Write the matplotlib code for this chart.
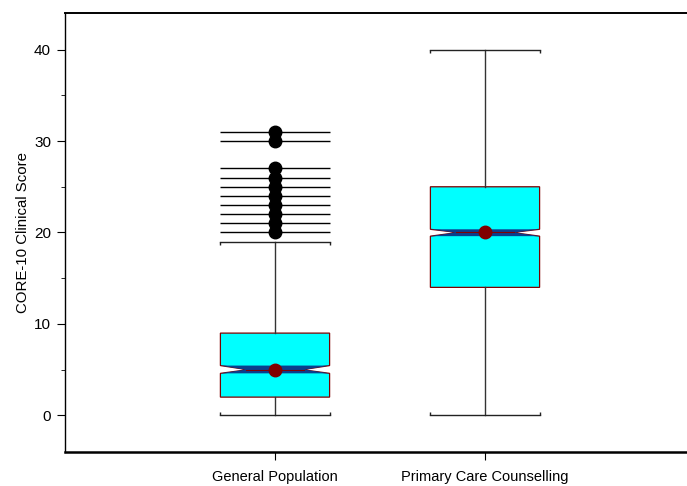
import matplotlib
matplotlib.use("Agg")
import matplotlib.pyplot as plt
from matplotlib.patches import Polygon
from matplotlib.ticker import MultipleLocator

plt.rcParams['font.family'] = ['Liberation Sans', 'DejaVu Sans']

categories = ["General Population", "Primary Care Counselling"]
q1 = [2, 14]
q3 = [9, 25]
medians = [5, 20]
means = [5, 20]
whislo = [0, 0]
whishi = [19, 40]
cilo = [4.6, 19.6]
cihi = [5.45, 20.35]
outliers = [[20, 21, 22, 23, 24, 25, 26, 27, 30, 31], []]

positions = [1, 2]
width = 0.52

fig = plt.figure(figsize=(6.87, 4.86), dpi=100)
ax = fig.add_axes([65 / 687, 34 / 486, 630 / 687, 439 / 486])

stats = []
for i, lab in enumerate(categories):
    stats.append(dict(label=lab, med=medians[i], q1=q1[i], q3=q3[i],
                      whislo=whislo[i], whishi=whishi[i], cilo=cilo[i],
                      cihi=cihi[i], mean=means[i], fliers=[]))

ax.bxp(stats, positions=positions, widths=width, shownotches=True, patch_artist=True,
       showmeans=False, showfliers=False,
       boxprops=dict(facecolor='#00FFFF', edgecolor='#800000', linewidth=0.9),
       medianprops=dict(color='#800000', linewidth=0.8),
       whiskerprops=dict(color='#333333', linewidth=1.0),
       capprops=dict(color='#222222', linewidth=1.0),
       capwidths=width, zorder=2)

# navy notch band
for i, p in enumerate(positions):
    xl, xr = p - width / 2, p + width / 2
    ind = 0.23 * width
    poly = Polygon([(xl, cilo[i]), (xr, cilo[i]), (xr - ind, medians[i]), (xr, cihi[i]),
                    (xl, cihi[i]), (xl + ind, medians[i])], closed=True,
                   facecolor='#0A3E8C', edgecolor='none', zorder=2.5)
    ax.add_patch(poly)
    ax.plot([xl + ind, xr - ind], [medians[i], medians[i]], color='#800000', lw=0.8, zorder=2.6)
    # cap end ticks
    for y, d in ((whislo[i], 0.35), (whishi[i], -0.35)):
        ax.vlines([xl, xr], y, y + d, color='#222222', lw=1.0, zorder=2)

# outliers: line + dot
for i, p in enumerate(positions):
    if outliers[i]:
        ax.hlines(outliers[i], p - width / 2, p + width / 2, color='black', lw=1.0, zorder=2)
        ax.plot([p] * len(outliers[i]), outliers[i], 'o', color='black', markersize=9, zorder=3)
ax.plot(positions, means, 'o', color='#800000', markersize=9, zorder=4)

ax.set_xlim(0, 3)
ax.set_ylim(-4, 44)
ax.set_xticks(positions)
ax.set_xticklabels(categories, fontsize=10.5)
ax.yaxis.set_major_locator(MultipleLocator(10))
ax.yaxis.set_minor_locator(MultipleLocator(5))
ax.tick_params(axis='y', which='major', length=6, labelsize=11, direction='out', pad=4)
ax.tick_params(axis='y', which='minor', length=3, direction='out')
ax.tick_params(axis='x', length=6, labelsize=10.5, pad=7)
ax.set_ylabel("CORE-10 Clinical Score", fontsize=10.8, labelpad=3)

ax.spines['right'].set_visible(False)
ax.spines['bottom'].set_linewidth(1.8)
ax.spines['top'].set_linewidth(1.4)
ax.spines['left'].set_linewidth(1.0)

fig.savefig("out.png", dpi=100)
